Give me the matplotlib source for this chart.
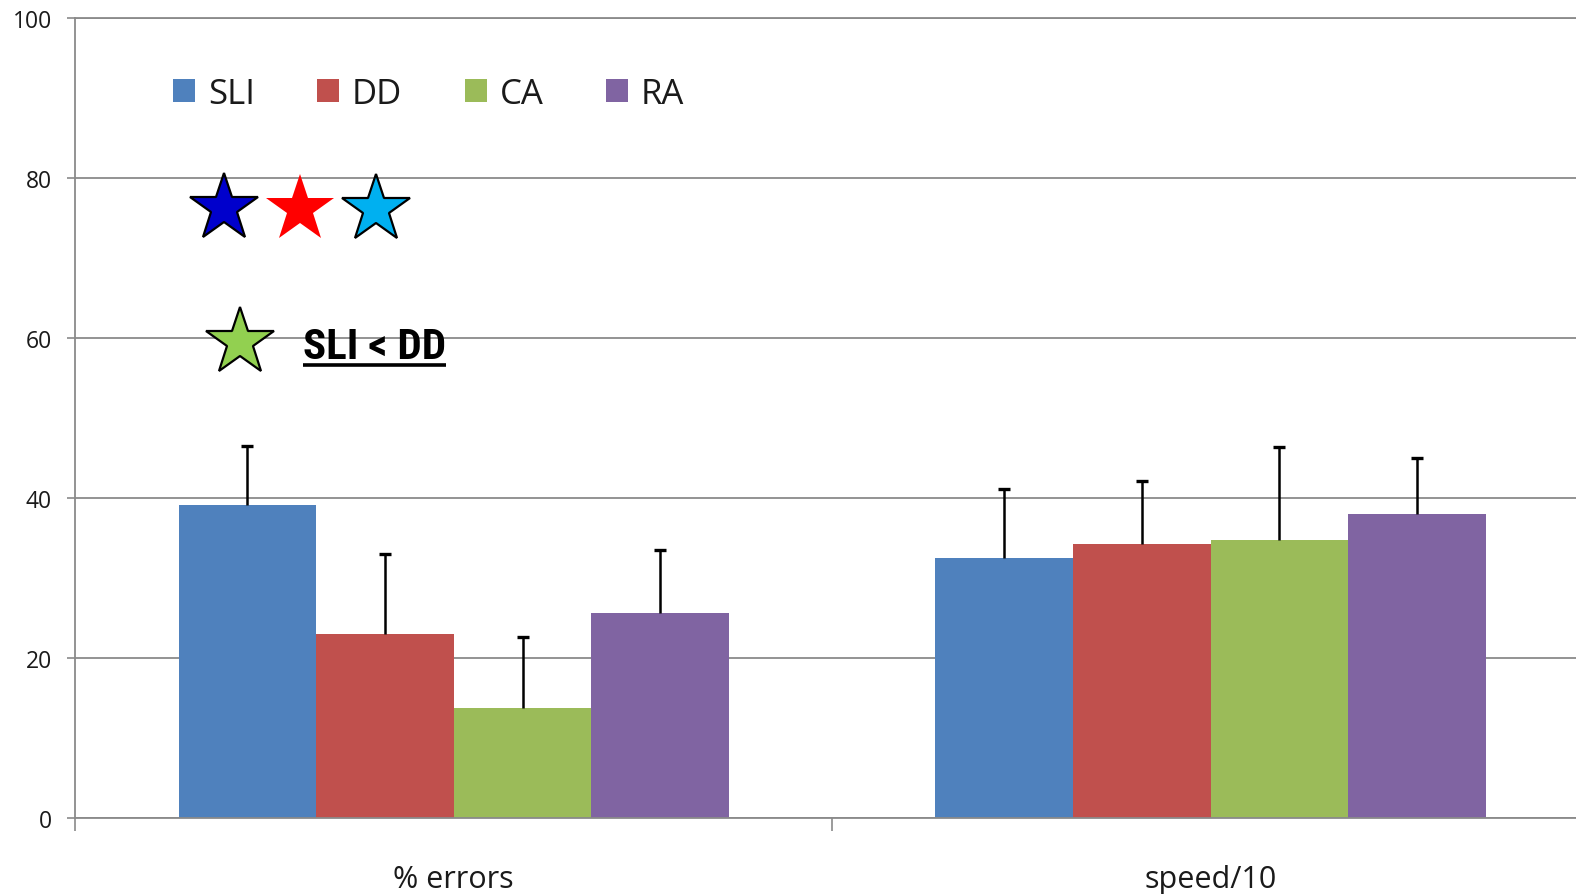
import matplotlib
matplotlib.use("Agg")
import matplotlib.pyplot as plt
from matplotlib.patches import Patch
from matplotlib.lines import Line2D
import numpy as np

# ---- data ----
categories = ["% errors", "speed/10"]
groups = ["SLI", "DD", "CA", "RA"]
colors = ["#4F81BD", "#C0504D", "#9BBB59", "#8064A2"]
sli_vals = [39.2, 32.5]
dd_vals = [23.0, 34.3]
ca_vals = [13.8, 34.8]
ra_vals = [25.7, 38.1]
sli_err = [7.3, 8.7]
dd_err = [10.1, 7.9]
ca_err = [8.9, 11.6]
ra_err = [7.9, 6.9]
y_ticks = [0, 20, 40, 60, 80, 100]
annotation_text = "SLI < DD"

values = [sli_vals, dd_vals, ca_vals, ra_vals]
errors = [sli_err, dd_err, ca_err, ra_err]

plt.rcParams['font.family'] = ['Open Sans', 'DejaVu Sans']

W, H = 1576, 895
fig = plt.figure(figsize=(W / 100, H / 100), dpi=100)
ax = fig.add_axes([75.4 / W, (H - 819.3) / H, 1513.6 / W, 800 / H])

grey = "#8a8a8a"
n = len(groups)
bw = 1.0 / (n + 1.5)
centers = np.arange(len(categories)) + 0.5

for i, (g, c, v, e) in enumerate(zip(groups, colors, values, errors)):
    x = centers + (i - (n - 1) / 2) * bw
    ax.bar(x, v, width=bw, color=c, edgecolor='none', zorder=2, label=g)
    _, caps, _ = ax.errorbar(x, v, yerr=[np.zeros(len(e)), e], fmt='none',
                             ecolor='black', elinewidth=1.8, capsize=4,
                             capthick=2.4, zorder=3)
    for cl in caps:
        if np.allclose(cl.get_ydata(), v):
            cl.set_visible(False)

ax.set_xlim(0, len(categories))
ax.set_ylim(0, 100)
ax.set_yticks(y_ticks)
ax.set_yticklabels([str(t) for t in y_ticks])
ax.set_xticks(np.arange(len(categories) + 1))
ax.set_xticklabels([])
ax.set_xticks(centers, minor=True)
ax.set_xticklabels(categories, minor=True)
ax.tick_params(axis='x', which='major', length=9, width=1.2, color=grey, direction='out')
ax.tick_params(axis='x', which='minor', length=0, pad=33, labelsize=22, labelcolor='#1a1a1a')
ax.tick_params(axis='y', length=6, width=1.2, color=grey, pad=11, labelsize=16.5,
               labelcolor='#1a1a1a')

ax.yaxis.grid(True, color=grey, lw=1.3, zorder=0)
ax.set_axisbelow(True)
for s in ['left', 'bottom', 'top']:
    ax.spines[s].set_color(grey)
    ax.spines[s].set_linewidth(1.3)
ax.spines['right'].set_visible(False)

# legend
handles = [Patch(facecolor=c, edgecolor='none', label=g) for g, c in zip(groups, colors)]
leg = ax.legend(handles=handles, ncol=4, loc='center left',
                bbox_to_anchor=((173 - 75.4) / 1513.6, (819.3 - 94.5) / 800),
                frameon=False, fontsize=25, handlelength=0.63, handleheight=0.63,
                handletextpad=0.37, columnspacing=1.8, borderpad=0, borderaxespad=0)
for t in leg.get_texts():
    t.set_color('#1a1a1a')

# significance stars (annotation positions in data coordinates)
star_specs = [
    (0.196, 76.3, "#0000CC", 'black'),
    (0.297, 76.2, "#FF0000", 'none'),
    (0.397, 76.2, "#00B0F0", 'black'),
    (0.217, 59.5, "#92D050", 'black'),
]
for sx, sy, fc, ec in star_specs:
    ax.plot([sx], [sy], marker='*', markersize=51, markerfacecolor=fc,
            markeredgecolor=ec, markeredgewidth=1.6, linestyle='none',
            zorder=5, clip_on=False)

txt = ax.text(0.3007, 57.5, annotation_text, fontsize=31, fontweight='bold',
              family=['Liberation Sans Narrow', 'Roboto Condensed', 'DejaVu Sans'],
              fontstretch='condensed', color='black',
              va='baseline', ha='left', zorder=5)

fig.canvas.draw()
bb = txt.get_window_extent(renderer=fig.canvas.get_renderer())
y_ul = H - 365.5
fig.add_artist(Line2D([bb.x0, bb.x1], [y_ul, y_ul], transform=None,
                      color='black', lw=2.6, solid_capstyle='butt'))

fig.savefig("out.png", dpi=100)
